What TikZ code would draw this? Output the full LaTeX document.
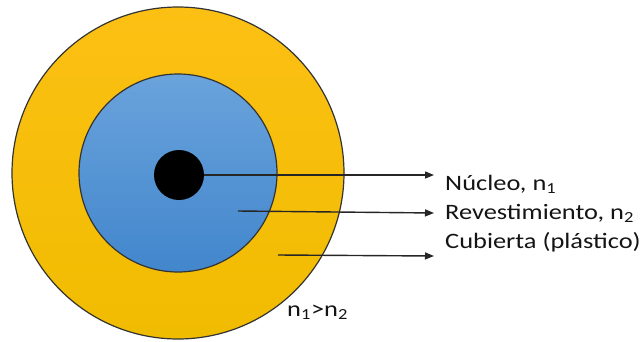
\documentclass[tikz,border=0pt]{standalone}
\usepackage{fontspec}
\setmainfont{Carlito}
\usepackage{tikz}
\usetikzlibrary{arrows.meta}
\usepackage{xcolor}
\definecolor{coatgold}{RGB}{252,192,20}
\definecolor{coatgolddark}{RGB}{240,188,0}
\definecolor{cladblue}{RGB}{106,163,220}
\definecolor{cladbluedark}{RGB}{66,134,204}
\definecolor{textgrey}{RGB}{20,20,20}

\begin{document}
\begin{tikzpicture}[x=1pt, y=-1pt, font=\fontsize{22}{26}\selectfont,
    lbl/.style={anchor=base west, inner sep=0pt, text=textgrey, xscale=1.2, transform shape},
    pointer/.style={-{Triangle[length=9pt,width=7pt]}, line width=1.4pt, black!85}]
        \useasboundingbox (0,0) rectangle (641,341);
        % Outer coating
        \draw[line width=1.2pt, black!80, top color=coatgold, bottom color=coatgolddark]
          (178,173) circle (166pt);
        % Cladding
        \draw[line width=1.2pt, black!80, top color=cladblue, bottom color=cladbluedark]
          (178,173) circle (99pt);
        % Core
        \fill[black] (179,175) circle (25pt);

        % Labels
        \node[lbl] (nucleo) at (445,190) {Núcleo, n\textsubscript{1}};
        \node[lbl] (revest) at (445,219.5) {Revestimiento, n\textsubscript{2}};
        \node[lbl] (cubierta) at (445,248) {Cubierta (plástico)};
        \node[lbl] (indices) at (287,316) {n\textsubscript{1}>n\textsubscript{2}};

        % Pointers
        \coordinate (pcore) at (204,175);
        \coordinate (pclad) at (238,211);
        \coordinate (pcoat) at (278,255);
        \coordinate (tcore) at (434,175);
        \coordinate (tclad) at (434,213);
        \coordinate (tcoat) at (434,256);
        \draw[pointer] (pcore) -- (tcore);
        \draw[pointer] (pclad) -- (tclad);
        \draw[pointer] (pcoat) -- (tcoat);
      \end{tikzpicture}
\end{document}
